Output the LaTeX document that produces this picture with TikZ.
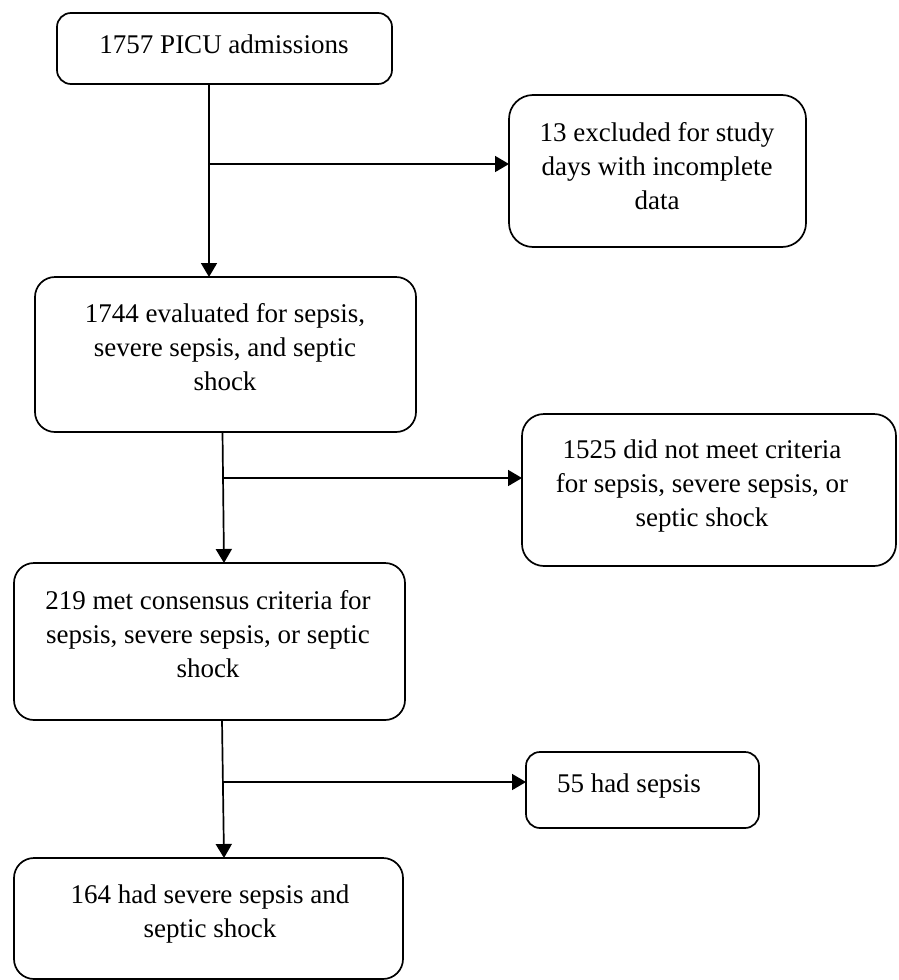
\documentclass[tikz,border=0pt]{standalone}
\usepackage{fontspec}
\setmainfont{Liberation Serif}
\usetikzlibrary{arrows.meta}
\begin{document}
\begin{tikzpicture}[x=1pt,y=-1pt,
  box/.style={draw, line width=1.7pt, rectangle, rounded corners=#1, inner sep=0pt, outer sep=0pt},
  box/.default=16pt,
  txt/.style={anchor=north, align=center, inner sep=0pt, font=\fontsize{27}{34}\selectfont},
  arr/.style={line width=1.7pt, -{Triangle[length=14pt,width=16pt]}},
  ln/.style={line width=1.7pt}]
\useasboundingbox (0,0) rectangle (898,980);
\fill[white] (0,0) rectangle (898,980);
% boxes
\node[box=14pt, minimum width=335pt, minimum height=71pt] (b1) at (224.5,48.5) {};
\node[box=24pt, minimum width=297pt, minimum height=152pt] (b2) at (657.5,171) {};
\node[box=20pt, minimum width=381pt, minimum height=155pt] (b3) at (225.5,354.5) {};
\node[box=22pt, minimum width=374pt, minimum height=152pt] (b4) at (709,490) {};
\node[box=20pt, minimum width=391pt, minimum height=157pt] (b5) at (209.5,641.5) {};
\node[box=14pt, minimum width=233pt, minimum height=76pt] (b6) at (642.5,790) {};
\node[box=20pt, minimum width=389pt, minimum height=121pt] (b7) at (208.5,918.5) {};
% texts
\node[txt] (t1) at (224,35) {1757 PICU admissions};
\node[txt] (t2) at (657,122) {13 excluded for study\\days with incomplete\\data};
\node[txt] (t3) at (225,303) {1744 evaluated for sepsis,\\severe sepsis, and septic\\shock};
\node[txt] (t4) at (702,440) {1525 did not meet criteria\\for sepsis, severe sepsis, or\\septic shock};
\node[txt] (t5) at (208,590) {219 met consensus criteria for\\sepsis, severe sepsis, or septic\\shock};
\node[txt] (t6) at (629,774) {55 had sepsis};
\node[txt] (t7) at (210,885) {164 had severe sepsis and\\septic shock};
% connectors
\coordinate (j1) at (209,164);
\draw[arr] (j1 |- b1.south) -- (j1 |- b3.north);
\draw[arr] (j1) -- (j1 -| b2.west);
\coordinate (j2) at (222.5,478);
\draw[arr] ([xshift=-3pt]b3.south) -- ([xshift=14.5pt]b5.north);
\draw[arr] (j2) -- (j2 -| b4.west);
\coordinate (j3) at (222.6,782);
\draw[arr] ([xshift=12.5pt]b5.south) -- ([xshift=15.5pt]b7.north);
\draw[arr] (j3) -- (j3 -| b6.west);
\end{tikzpicture}
\end{document}
